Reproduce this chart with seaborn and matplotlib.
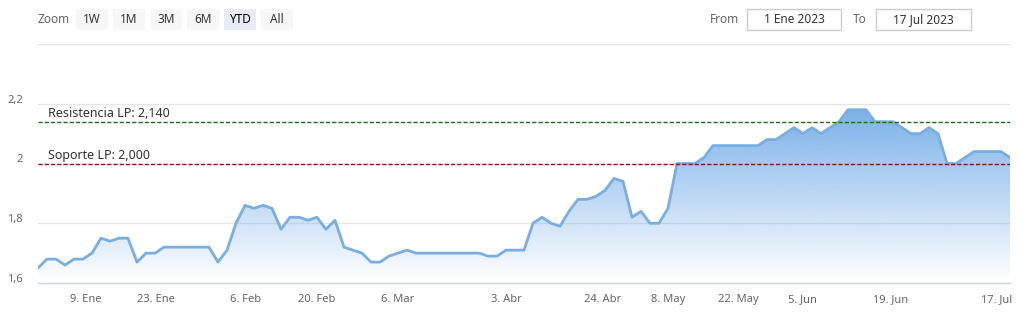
import numpy as np
import pandas as pd
import matplotlib
matplotlib.use("Agg")
import matplotlib.pyplot as plt
import matplotlib.transforms as mtransforms
from matplotlib.patches import Rectangle
import seaborn as sns

# ---------------- data ----------------
values = [1.65, 1.68, 1.68, 1.66, 1.68, 1.68, 1.70, 1.75, 1.74, 1.75,
          1.75, 1.67, 1.70, 1.70, 1.72, 1.72, 1.72, 1.72, 1.72, 1.72,
          1.67, 1.71, 1.80, 1.86, 1.85, 1.86, 1.85, 1.78, 1.82, 1.82,
          1.81, 1.82, 1.78, 1.81, 1.72, 1.71, 1.70, 1.67, 1.67, 1.69,
          1.70, 1.71, 1.70, 1.70, 1.70, 1.70, 1.70, 1.70, 1.70, 1.70,
          1.69, 1.69, 1.71, 1.71, 1.71, 1.80, 1.82, 1.80, 1.79, 1.84,
          1.88, 1.88, 1.89, 1.91, 1.95, 1.94, 1.82, 1.84, 1.80, 1.80,
          1.85, 2.00, 2.00, 2.00, 2.02, 2.06, 2.06, 2.06, 2.06, 2.06,
          2.06, 2.08, 2.08, 2.10, 2.12, 2.10, 2.12, 2.10, 2.12, 2.14,
          2.18, 2.18, 2.18, 2.14, 2.14, 2.14, 2.12, 2.10, 2.10, 2.12,
          2.10, 2.00, 2.00, 2.02, 2.04, 2.04, 2.04, 2.04, 2.02]
tick_pos = [5.3, 13.1, 23.1, 31.0, 40.0, 52.0, 62.7, 70.0, 77.8, 84.9, 94.7, 107.8]
tick_labels = ["9. Ene", "23. Ene", "6. Feb", "20. Feb", "6. Mar", "3. Abr",
               "24. Abr", "8. May", "22. May", "5. Jun", "19. Jun", "17. Jul"]
y_ticks = [1.6, 1.8, 2.0, 2.2]
y_labels = ["1,6", "1,8", "2", "2,2"]
grid_levels = [1.8, 2.0, 2.2, 2.4]
resistance = 2.14
support = 2.00
resistance_label = "Resistencia LP: 2,140"
support_label = "Soporte LP: 2,000"
zoom_buttons = ["1W", "1M", "3M", "6M", "YTD", "All"]
selected_button = "YTD"
date_from = "1 Ene 2023"
date_to = "17 Jul 2023"

# ---------------- style ----------------
sns.set_style("white")
plt.rcParams['font.family'] = ['Noto Sans', 'DejaVu Sans']

W, H = 1020, 314
fig = plt.figure(figsize=(W / 100, H / 100), dpi=100)
ax = fig.add_axes([38 / W, 31 / H, 972 / W, 239 / H])

df = pd.DataFrame({"idx": np.arange(len(values)), "value": values})
n = len(values)
ymin, ymax = 1.6, 2.4

# grid lines
for g in grid_levels:
    ax.axhline(g, color="#e6e6e6", lw=1, zorder=0.5)

# gradient fill under the line
poly = ax.fill_between(df["idx"], df["value"], ymin, color="none", lw=0)
top = max(values)
rgba = np.zeros((256, 1, 4))
rgba[..., 0] = 122 / 255
rgba[..., 1] = 177 / 255
rgba[..., 2] = 233 / 255
rgba[..., 3] = np.linspace(1.0, 0.0, 256)[:, None]
im = ax.imshow(rgba, extent=[0, n - 1, ymin, top], aspect="auto",
               origin="upper", zorder=1, interpolation="bilinear")
im.set_clip_path(poly.get_paths()[0], transform=ax.transData)

sns.lineplot(data=df, x="idx", y="value", color="#7aaee2", linewidth=2,
             ax=ax, zorder=3)

# support / resistance lines
ax.axhline(resistance, color="#1d6b1d", lw=1, dashes=(3, 1.5), zorder=4)
ax.axhline(support, color="#7d1a26", lw=1, dashes=(3, 1.5), zorder=4)
bt = mtransforms.blended_transform_factory(ax.transAxes, ax.transData)
ax.text(10 / 972, resistance + 0.006, resistance_label, transform=bt,
        fontsize=9, color="#333333", va="bottom", ha="left", zorder=5)
ax.text(10 / 972, support + 0.006, support_label, transform=bt,
        fontsize=9, color="#333333", va="bottom", ha="left", zorder=5)

ax.set_xlim(0, n - 1)
ax.set_ylim(ymin, ymax)
ax.set_xlabel("")
ax.set_ylabel("")

ax.set_xticks(tick_pos)
ax.set_xticklabels(tick_labels)
ax.set_yticks(y_ticks)
ax.set_yticklabels(y_labels)
ax.tick_params(axis="x", length=7.2, width=1, color="#ccd6eb", pad=1,
               labelsize=8, labelcolor="#666666")
ax.tick_params(axis="y", length=0, pad=10.8, labelsize=8, labelcolor="#666666")
off = mtransforms.ScaledTranslation(0, 5 / 100, fig.dpi_scale_trans)
for lab in ax.get_yticklabels():
    lab.set_transform(lab.get_transform() + off)
last = ax.get_xticklabels()[-1]
last.set_horizontalalignment("right")
last.set_transform(last.get_transform() +
                   mtransforms.ScaledTranslation(4 / 100, 0, fig.dpi_scale_trans))

for s in ["top", "left", "right"]:
    ax.spines[s].set_visible(False)
ax.spines["bottom"].set_color("#ccd6eb")
ax.spines["bottom"].set_linewidth(1)


# ---------------- range selector ----------------
def fx(px):
    return px / W


def fy(py):
    return 1 - py / H


fig.text(fx(38), fy(19.5), "Zoom", fontsize=8.5, color="#666666",
         ha="left", va="center")
bx = 76
for b in zoom_buttons:
    sel = (b == selected_button)
    fig.add_artist(Rectangle((fx(bx), fy(30)), 32 / W, 21 / H,
                             transform=fig.transFigure,
                             facecolor="#e6ebf5" if sel else "#f7f7f7",
                             edgecolor="none"))
    fig.text(fx(bx + 16), fy(19.5), b, fontsize=8.5,
             color="#000000" if sel else "#333333",
             fontweight="bold" if sel else "normal",
             ha="center", va="center")
    bx += 37

fig.text(fx(710), fy(19.5), "From", fontsize=8.5, color="#666666",
         ha="left", va="center")
fig.add_artist(Rectangle((fx(747), fy(30)), 94 / W, 21 / H,
                         transform=fig.transFigure, facecolor="white",
                         edgecolor="#cccccc", lw=1))
fig.text(fx(794), fy(19.5), date_from, fontsize=8.5, color="#333333",
         ha="center", va="center")
fig.text(fx(853), fy(19.5), "To", fontsize=8.5, color="#666666",
         ha="left", va="center")
fig.add_artist(Rectangle((fx(876), fy(30)), 95 / W, 21 / H,
                         transform=fig.transFigure, facecolor="white",
                         edgecolor="#cccccc", lw=1))
fig.text(fx(923.5), fy(19.5), date_to, fontsize=8.5, color="#333333",
         ha="center", va="center")

fig.savefig("out.png", dpi=100)
